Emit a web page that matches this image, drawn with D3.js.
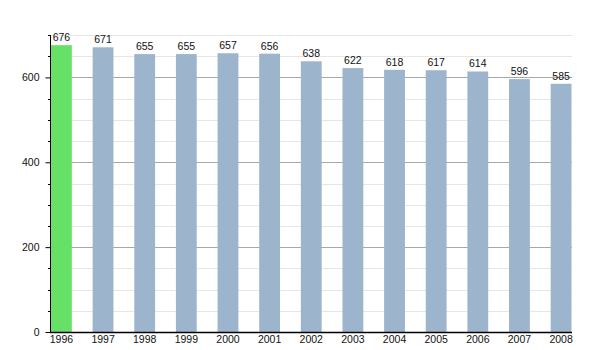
<!DOCTYPE html>
<html><head><meta charset="utf-8">
<script src="https://cdn.jsdelivr.net/npm/d3@7"></script>
<style>body{margin:0;background:#fff}svg{display:block}text{font-family:"Liberation Sans",Arial,sans-serif}</style>
</head><body><svg id="c" width="600" height="350"></svg>
<script>
const years = ["1996","1997","1998","1999","2000","2001","2002","2003","2004","2005","2006","2007","2008"];
const values = [676,671,655,655,657,656,638,622,618,617,614,596,585];
const highlight = ["1996"];
const yMajorTicks = [0,200,400,600];

(function(){
const svg = d3.select("#c");
const mL = 50, mR = 572, mT = 35, mB = 332;
const fs = 10.5;
const x = d3.scaleBand().domain(years).range([51, 571.5]).paddingInner(0.5).paddingOuter(0);
const y = d3.scaleLinear().domain([0,700]).range([mB, mT]);

const minor = d3.range(0, 701, 50);
svg.append("g").selectAll("line").data(minor.filter(v=>v>0)).join("line")
  .attr("x1", mL).attr("x2", mR)
  .attr("y1", d=>Math.round(y(d))+0.5).attr("y2", d=>Math.round(y(d))+0.5)
  .attr("stroke", d=> d%200===0 ? "#a8a8a8" : "#e6e6e6").attr("stroke-width",1);

svg.append("g").selectAll("rect").data(years).join("rect")
  .attr("x", d=>x(d)).attr("width", x.bandwidth())
  .attr("y", (d,i)=>y(values[i])).attr("height",(d,i)=>mB - y(values[i]))
  .attr("fill", d=> highlight.includes(d) ? "#66e066" : "#9cb4cc");

svg.append("g").selectAll("text").data(years).join("text")
  .attr("x", d=>x(d)+x.bandwidth()/2).attr("y",(d,i)=>y(values[i])-4)
  .attr("text-anchor","middle").attr("font-size",fs).attr("fill","#111")
  .text((d,i)=>values[i]);

const ya = svg.append("g").attr("transform",`translate(${mL+0.5},0)`)
  .call(d3.axisLeft(y).tickValues(yMajorTicks).tickSize(5).tickFormat(d3.format("d")));
ya.select(".domain").remove();
ya.selectAll("text").attr("font-size",fs).attr("fill","#111").attr("dx",-3).attr("font-family","'Liberation Sans',Arial,sans-serif");
ya.selectAll("line").attr("stroke","#000");
svg.append("g").selectAll("line").data(minor.filter(v=>v%200!==0)).join("line")
  .attr("x1", mL-2).attr("x2", mL)
  .attr("y1", d=>Math.round(y(d))+0.5).attr("y2", d=>Math.round(y(d))+0.5).attr("stroke","#000");
svg.append("line").attr("x1",mL+0.5).attr("x2",mL+0.5).attr("y1",mT).attr("y2",mB).attr("stroke","#000");

const xa = svg.append("g").attr("transform",`translate(0,${mB})`)
  .call(d3.axisBottom(x).tickSize(0).tickPadding(4));
xa.select(".domain").remove();
xa.selectAll("text").attr("font-size",fs).attr("fill","#111").attr("font-family","'Liberation Sans',Arial,sans-serif");
svg.append("line").attr("x1",mL).attr("x2",mR).attr("y1",mB+0.5).attr("y2",mB+0.5).attr("stroke","#000").attr("stroke-width",1.5);
})();
</script></body></html>
